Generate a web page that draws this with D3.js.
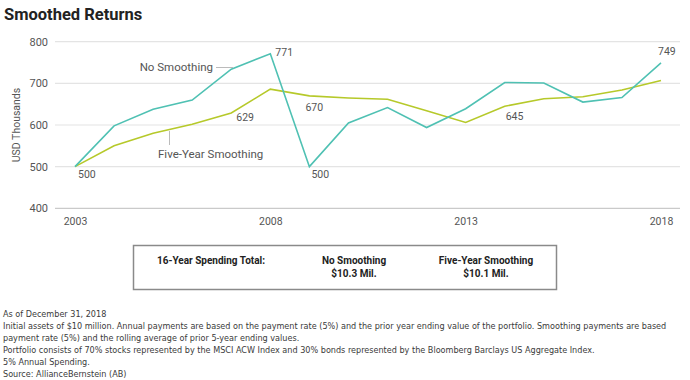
<!DOCTYPE html>
<html>
<head>
<meta charset="utf-8">
<script src="https://cdn.jsdelivr.net/npm/d3@7"></script>
<style>
  html, body { margin: 0; padding: 0; background: #fff; }
  svg { display: block; }
  text { font-family: Roboto, "Noto Sans", sans-serif; }
</style>
</head>
<body>
<svg id="chart" width="690" height="380"></svg>
<script>
// ---------- data ----------
const years = [2003,2004,2005,2006,2007,2008,2009,2010,2011,2012,2013,2014,2015,2016,2017,2018];
const noSmoothing = [500,598,638,660,734,771,500,605,642,594,639,702,701,655,666,749];
const fiveYearSmoothing = [500,550,580,602,629,686,670,665,662,634,606,645,663,668,684,707];
const yTicks = [400,500,600,700,800];
const xTicks = [2003,2008,2013,2018];
const valueLabels = [
  {series: "no", year: 2003, text: "500"},
  {series: "five", year: 2007, text: "629"},
  {series: "no", year: 2008, text: "771"},
  {series: "five", year: 2009, text: "670"},
  {series: "no", year: 2009, text: "500"},
  {series: "five", year: 2014, text: "645"},
  {series: "no", year: 2018, text: "749"}
];
const seriesNames = ["No Smoothing", "Five-Year Smoothing"];
const summaryLabel = "16-Year Spending Total:";
const summaryValues = ["$10.3 Mil.", "$10.1 Mil."];
const title = "Smoothed Returns";
const yTitle = "USD Thousands";
const footnotes = [
  "As of December 31, 2018",
  "Initial assets of $10 million. Annual payments are based on the payment rate (5%) and the prior year ending value of the portfolio. Smoothing payments are based",
  "payment rate (5%) and the rolling average of prior 5-year ending values.",
  "Portfolio consists of 70% stocks represented by the MSCI ACW Index and 30% bonds represented by the Bloomberg Barclays US Aggregate Index.",
  "5% Annual Spending.",
  "Source: AllianceBernstein (AB)"
];

// ---------- layout ----------
const svg = d3.select("#chart");
const teal = "#4fc1b3";
const lime = "#b6c92a";
const textGrey = "#555";

const x = d3.scaleLinear().domain([2003, 2018]).range([75, 661]);
const y = d3.scaleLinear().domain([400, 800]).range([208.3, 41.7]);

// title
svg.append("text").attr("x", 4).attr("y", 19.5)
  .attr("font-size", 16.5).attr("font-weight", 700).attr("fill", "#222")
  .style("font-family", "Roboto, sans-serif")
  .text(title);

// gridlines
svg.append("g").selectAll("line").data(yTicks).join("line")
  .attr("x1", 55).attr("x2", 680)
  .attr("y1", d => y(d)).attr("y2", d => y(d))
  .attr("stroke", d => d === 400 ? "#cacaca" : "#e4e4e4")
  .attr("stroke-width", 1.2);

// y axis labels
const yAxis = d3.axisLeft(y).tickValues(yTicks).tickSize(0).tickPadding(0);
svg.append("g").attr("transform", "translate(48,0)").call(yAxis)
  .call(g => g.select(".domain").remove())
  .call(g => g.selectAll("text").attr("font-size", 11).attr("fill", textGrey)
    .style("font-family", "Roboto, sans-serif"));

// x axis labels
const xAxis = d3.axisBottom(x).tickValues(xTicks).tickFormat(d3.format("d")).tickSize(0).tickPadding(0);
svg.append("g").attr("transform", "translate(0,218)").call(xAxis)
  .call(g => g.select(".domain").remove())
  .call(g => g.selectAll("text").attr("font-size", 10.5).attr("fill", textGrey)
    .style("font-family", "Roboto, sans-serif"));

// y title
svg.append("text").attr("transform", "translate(20,125) rotate(-90)")
  .attr("text-anchor", "middle").attr("font-size", 10.5).attr("fill", textGrey)
  .text(yTitle);

// lines
const line = d3.line().x((d, i) => x(years[i])).y(d => y(d));
svg.append("path").datum(fiveYearSmoothing).attr("d", line)
  .attr("fill", "none").attr("stroke", lime).attr("stroke-width", 1.6);
svg.append("path").datum(noSmoothing).attr("d", line)
  .attr("fill", "none").attr("stroke", teal).attr("stroke-width", 1.6);

// value labels
const labelOffsets = {
  "no-2003": [3, 11], "five-2007": [5, 8.5], "no-2008": [5, 2],
  "five-2009": [-4, 15], "no-2009": [2, 11], "five-2014": [1, 13.5], "no-2018": [-3, -7.5]
};
svg.append("g").selectAll("text").data(valueLabels).join("text")
  .attr("x", d => x(d.year) + labelOffsets[d.series + "-" + d.year][0])
  .attr("y", d => {
    const arr = d.series === "no" ? noSmoothing : fiveYearSmoothing;
    return y(arr[years.indexOf(d.year)]) + labelOffsets[d.series + "-" + d.year][1];
  })
  .attr("font-size", 10.5).attr("fill", textGrey)
  .text(d => d.text);

// series annotations
svg.append("line")
  .attr("x1", 216).attr("x2", 233).attr("y1", 67.5).attr("y2", 67.5)
  .attr("stroke", "#bbb").attr("stroke-width", 1);
svg.append("text").attr("x", 213).attr("y", 70.5).attr("text-anchor", "end")
  .attr("font-size", 11.5).attr("fill", textGrey).text(seriesNames[0]);

svg.append("line")
  .attr("x1", 169.5).attr("x2", 169.5).attr("y1", 131).attr("y2", 145)
  .attr("stroke", "#bbb").attr("stroke-width", 1);
svg.append("text").attr("x", 158).attr("y", 157.5)
  .attr("font-size", 11.5).attr("fill", textGrey).text(seriesNames[1]);

// summary box
svg.append("rect").attr("x", 133.5).attr("y", 245.5).attr("width", 423).attr("height", 44)
  .attr("fill", "#fff").attr("stroke", "#8a8a8a").attr("stroke-width", 1.5);
const bold = { size: 10, weight: 700, fill: "#222" };
svg.append("text").attr("x", 157).attr("y", 263.5)
  .attr("font-size", bold.size).attr("font-weight", bold.weight).attr("fill", bold.fill)
  .text(summaryLabel);
const boxCols = [354, 486];
boxCols.forEach((cx, i) => {
  svg.append("text").attr("x", cx).attr("y", 263.5).attr("text-anchor", "middle")
    .attr("font-size", bold.size).attr("font-weight", bold.weight).attr("fill", bold.fill)
    .text(seriesNames[i]);
  svg.append("text").attr("x", cx).attr("y", 277).attr("text-anchor", "middle")
    .attr("font-size", bold.size).attr("font-weight", bold.weight).attr("fill", bold.fill)
    .text(summaryValues[i]);
});

// footnotes
svg.append("g").selectAll("text").data(footnotes).join("text")
  .attr("x", 3).attr("y", (d, i) => 316.5 + i * 12)
  .attr("font-size", 9).attr("fill", "#3a3a3a")
  .style("font-family", "'Liberation Sans Narrow', 'DejaVu Sans Condensed', sans-serif")
  .text(d => d);
</script>
</body>
</html>
